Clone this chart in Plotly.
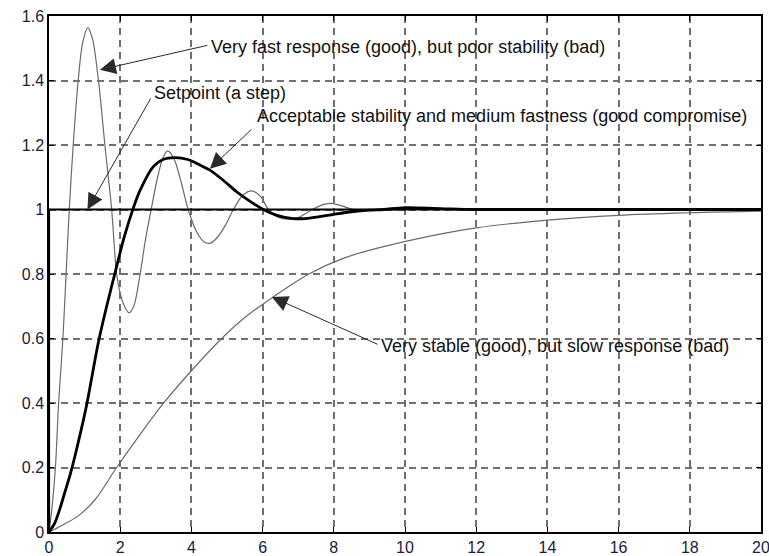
import plotly.graph_objects as go

# Time axis tick values
x_ticks = [0, 2, 4, 6, 8, 10, 12, 14, 16, 18, 20]
y_ticks = [0, 0.2, 0.4, 0.6, 0.8, 1.0, 1.2, 1.4, 1.6]

# Setpoint (a step)
setpoint_t = [0, 0, 20]
setpoint_y = [0, 1, 1]

# Very fast response, poor stability
fast_t = [0, 0.08, 0.18, 0.27, 0.39, 0.48, 0.57, 0.68, 0.82, 0.95, 1.09, 1.22, 1.39, 1.57,
          1.76, 1.9, 2.0, 2.12, 2.25, 2.38, 2.56, 2.7, 2.87, 3.05, 3.2, 3.33, 3.5, 3.7,
          3.91, 4.15, 4.35, 4.52, 4.7, 4.95, 5.18, 5.45, 5.69, 5.95, 6.16, 6.45, 6.72,
          7.0, 7.4, 7.7, 7.94, 8.2, 8.55, 9.0, 10.0, 12.0, 20.0]
fast_y = [0, 0.07, 0.2, 0.4, 0.6, 0.8, 1.0, 1.2, 1.4, 1.52, 1.564, 1.53, 1.4, 1.2,
          1.0, 0.8, 0.74, 0.70, 0.68, 0.70, 0.8, 0.9, 1.0, 1.1, 1.16, 1.182, 1.16, 1.09,
          1.0, 0.93, 0.90, 0.895, 0.91, 0.95, 1.0, 1.045, 1.058, 1.04, 1.0, 0.975, 0.97,
          0.975, 1.0, 1.015, 1.019, 1.012, 1.0, 0.997, 1.0, 1.0, 1.0]

# Acceptable stability and medium fastness
medium_t = [0, 0.15, 0.3, 0.45, 0.6, 0.75, 0.9, 1.05, 1.22, 1.39, 1.62, 1.87, 2.1, 2.37,
            2.56, 2.93, 3.2, 3.54, 3.9, 4.2, 4.52, 4.9, 5.27, 5.65, 6.02, 6.4, 6.86, 7.2,
            7.6, 8.0, 8.5, 9.0, 9.4, 10.0, 11.0, 12.0, 20.0]
medium_y = [0, 0.025, 0.07, 0.125, 0.18, 0.245, 0.315, 0.39, 0.49, 0.59, 0.70, 0.81, 0.91,
            1.005, 1.06, 1.133, 1.155, 1.161, 1.155, 1.14, 1.122, 1.09, 1.055, 1.025, 1.0,
            0.982, 0.972, 0.972, 0.978, 0.985, 0.993, 0.998, 1.0, 1.006, 1.003, 1.0, 1.0]

# Very stable, slow response
slow_t = [0, 0.36, 0.82, 1.29, 1.9, 2.51, 3.2, 4.0, 4.85, 5.5, 6.25, 7.3, 8.3, 9.4,
          10.5, 12.0, 14.0, 16.0, 18.0, 20.0]
slow_y = [0, 0.02, 0.05, 0.1, 0.2, 0.295, 0.397, 0.5, 0.6, 0.665, 0.725, 0.8,
          0.85, 0.885, 0.913, 0.943, 0.967, 0.982, 0.99, 0.995]

thin_gray = "#6a6a6a"

fig = go.Figure()
fig.add_trace(go.Scatter(x=slow_t, y=slow_y, mode="lines",
                         line=dict(color=thin_gray, width=1.2, shape="spline", smoothing=1.0)))
fig.add_trace(go.Scatter(x=fast_t, y=fast_y, mode="lines",
                         line=dict(color=thin_gray, width=1.2, shape="spline", smoothing=0.9)))
fig.add_trace(go.Scatter(x=setpoint_t, y=setpoint_y, mode="lines",
                         line=dict(color="black", width=2.2)))
fig.add_trace(go.Scatter(x=medium_t, y=medium_y, mode="lines",
                         line=dict(color="black", width=2.8, shape="spline", smoothing=0.9)))

text_font = dict(family="Liberation Sans, Arial, sans-serif", size=18, color="#111111")

arrows = [
    # (tip_x, tip_y, tail_x, tail_y)
    (1.43, 1.433, 4.49, 1.510),
    (1.08, 1.0, 2.88, 1.349),
    (4.52, 1.126, 5.73, 1.253),
    (6.26, 0.729, 9.27, 0.58),
]
labels = [
    (4.52, 1.504, "Very fast response (good), but poor stability (bad)"),
    (2.92, 1.361, "Setpoint (a step)"),
    (5.81, 1.290, "Acceptable stability and medium fastness (good compromise)"),
    (9.30, 0.577, "Very stable (good), but slow response (bad)"),
]

annotations = []
for tx, ty, sx, sy in arrows:
    annotations.append(dict(x=tx, y=ty, xref="x", yref="y", ax=sx, ay=sy,
                            axref="x", ayref="y", text="", showarrow=True,
                            arrowhead=2, arrowsize=3.2, arrowwidth=1,
                            arrowcolor="#2a2a2a", standoff=0, startstandoff=0))
for lx, ly, txt in labels:
    annotations.append(dict(x=lx, y=ly, xref="x", yref="y", text=txt, showarrow=False,
                            xanchor="left", yanchor="middle", font=text_font,
                            borderpad=0))

axis_common = dict(
    showline=True, linecolor="black", linewidth=1.5, mirror="ticks",
    ticks="inside", ticklen=5, tickcolor="black", tickwidth=1,
    showgrid=True, gridcolor="#707070", gridwidth=1.5, griddash="7px,5px",
    zeroline=False, automargin=False, ticklabeloverflow="allow",
    tickfont=dict(family="Liberation Sans, Arial, sans-serif", size=16, color="#1a1a40"),
)

fig.update_layout(
    width=769, height=556,
    margin=dict(l=49, r=8, t=16, b=24),
    paper_bgcolor="white", plot_bgcolor="white",
    showlegend=False,
    annotations=annotations,
    xaxis=dict(range=[0, 20], tickvals=x_ticks, **axis_common),
    yaxis=dict(range=[0, 1.6], tickvals=y_ticks, ticktext=[f"{v:g}" for v in y_ticks],
               **axis_common),
)

# Remove the page body's default margin so the figure fills the window exactly.
fig.write_html("out.html",
               config={"displayModeBar": False},
               post_script="document.body.style.margin='0';document.body.style.overflow='hidden';")
